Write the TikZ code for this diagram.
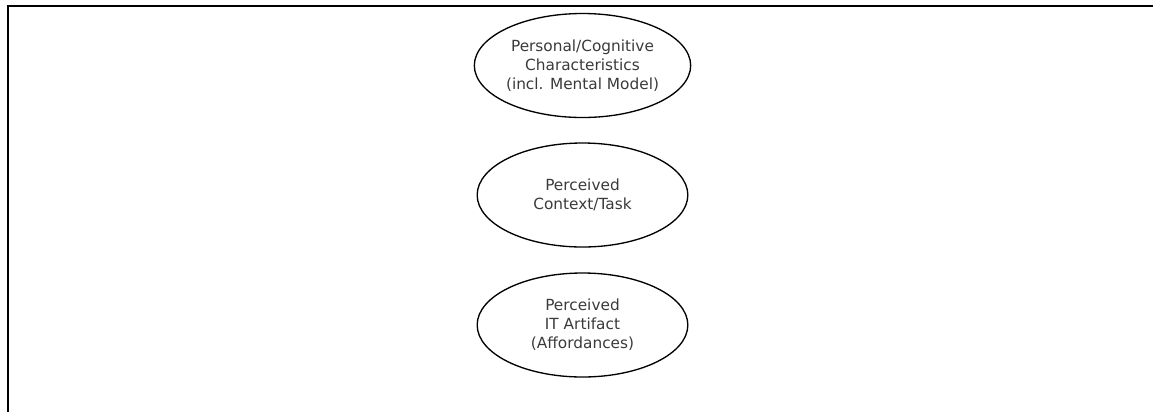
\documentclass[tikz,border=0pt]{standalone}
\usepackage{fontspec}
\newfontfamily\dejavu{DejaVu Sans}
\usetikzlibrary{shapes.geometric}
\definecolor{txtgray}{HTML}{3A3A3A}

\tikzset{
    construct/.style={draw, ellipse, line width=1pt,
        minimum width=158pt, minimum height=78pt, inner sep=0pt,
        align=center, text=txtgray,
        font=\dejavu\fontsize{11.5}{14.25}\selectfont}
}

\begin{document}
\begin{tikzpicture}[x=0.75pt, y=-0.75pt]
    \useasboundingbox (0, 0) rectangle (1153, 412);
    % frame: only top and left edges are visible
    \coordinate (tr) at (1153, 5.5);
    \coordinate (tl) at (7.5, 5.5);
    \coordinate (bl) at (7.5, 412);
    \draw[line width=1.5pt] (tr) -- (tl) -- (bl);

    % three constructs stacked in one column
    \node[construct] (pcc) at (582.5, 65.5)
        {Personal/Cognitive\\Characteristics\\(incl. Mental Model)};
    \node[construct] (pct) at (582.5, 195)
        {Perceived\\Context/Task};
    \node[construct] (pit) at (582.5, 325)
        {Perceived\\IT Artifact\\(Affordances)};
\end{tikzpicture}
\end{document}
